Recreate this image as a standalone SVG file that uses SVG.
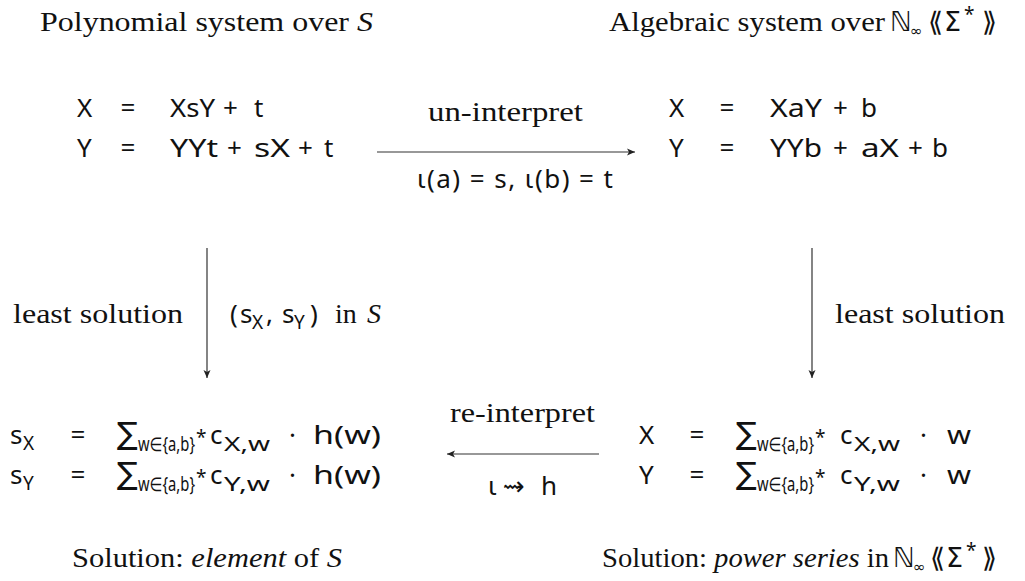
<svg xmlns="http://www.w3.org/2000/svg" width="1025" height="581" viewBox="0 0 1025 581">
<style>
.t{font-family:"Liberation Serif","DejaVu Serif",serif;font-size:28px;fill:#111}
.i{font-style:italic}
.m{font-family:"Noto Sans","DejaVu Sans",sans-serif;font-size:26px;fill:#111}
.sy{font-family:"DejaVu Sans",sans-serif}
.sb{font-size:19px}
.c{stroke:#333;stroke-width:1.2;fill:none;marker-end:url(#ah)}
</style>
<defs>
<marker id="ah" markerUnits="userSpaceOnUse" markerWidth="9" markerHeight="8" refX="8" refY="4" orient="auto">
<path d="M0,0.5 L8,4 L0,7.5 L2,4 z" fill="#222"/>
</marker>
</defs>
<rect width="1025" height="581" fill="#fff"/>

<g id="title-left">
<text class="t" x="40" y="31" textLength="333" lengthAdjust="spacingAndGlyphs">Polynomial system over <tspan class="i">S</tspan></text>
</g>
<g id="title-right">
<text class="t" x="609" y="31" textLength="276" lengthAdjust="spacingAndGlyphs">Algebraic system over</text>
<text class="m" y="31"><tspan class="sy" x="890" font-size="27">ℕ</tspan><tspan class="sy" x="910" dy="5" font-size="15">∞</tspan><tspan class="sy" x="928" dy="-5" font-size="27">⟪</tspan><tspan class="sy" x="944" font-size="27">Σ</tspan><tspan class="sb" x="964" dy="-10">*</tspan><tspan class="sy" x="982" dy="10" font-size="27">⟫</tspan></text>
</g>

<g id="poly-system">
<text class="m" y="117"><tspan x="77">X</tspan><tspan x="128" text-anchor="middle">=</tspan><tspan x="170" textLength="45" lengthAdjust="spacingAndGlyphs">XsY</tspan><tspan x="223">+</tspan><tspan x="254">t</tspan></text>
<text class="m" y="157"><tspan x="77">Y</tspan><tspan x="128" text-anchor="middle">=</tspan><tspan x="170" textLength="48" lengthAdjust="spacingAndGlyphs">YYt</tspan><tspan x="227">+</tspan><tspan x="254" textLength="36" lengthAdjust="spacingAndGlyphs">sX</tspan><tspan x="298">+</tspan><tspan x="324">t</tspan></text>
</g>

<g id="alg-system">
<text class="m" y="117"><tspan x="669">X</tspan><tspan x="727" text-anchor="middle">=</tspan><tspan x="770" textLength="52" lengthAdjust="spacingAndGlyphs">XaY</tspan><tspan x="833">+</tspan><tspan x="861">b</tspan></text>
<text class="m" y="157"><tspan x="669">Y</tspan><tspan x="727" text-anchor="middle">=</tspan><tspan x="770" textLength="52" lengthAdjust="spacingAndGlyphs">YYb</tspan><tspan x="833">+</tspan><tspan x="861" textLength="38" lengthAdjust="spacingAndGlyphs">aX</tspan><tspan x="908">+</tspan><tspan x="932">b</tspan></text>
</g>

<g id="elem-solution">
<text class="m" y="444"><tspan x="10">s</tspan><tspan class="sb" x="23" dy="6">X</tspan><tspan x="78" dy="-6" text-anchor="middle">=</tspan><tspan class="sy" x="117" font-size="31">∑</tspan><tspan class="sb" x="138" dy="7" textLength="57" lengthAdjust="spacingAndGlyphs">w∈{a,b}</tspan><tspan class="sb" x="196" dy="-7">*</tspan><tspan x="210">c</tspan><tspan class="sb" x="224" dy="7" textLength="46" lengthAdjust="spacingAndGlyphs">X,w</tspan><tspan x="289" dy="-7">·</tspan><tspan x="313" textLength="68" lengthAdjust="spacingAndGlyphs">h(w)</tspan></text>
<text class="m" y="484"><tspan x="10">s</tspan><tspan class="sb" x="23" dy="6">Y</tspan><tspan x="78" dy="-6" text-anchor="middle">=</tspan><tspan class="sy" x="117" font-size="31">∑</tspan><tspan class="sb" x="138" dy="7" textLength="57" lengthAdjust="spacingAndGlyphs">w∈{a,b}</tspan><tspan class="sb" x="196" dy="-7">*</tspan><tspan x="210">c</tspan><tspan class="sb" x="224" dy="7" textLength="46" lengthAdjust="spacingAndGlyphs">Y,w</tspan><tspan x="289" dy="-7">·</tspan><tspan x="313" textLength="68" lengthAdjust="spacingAndGlyphs">h(w)</tspan></text>
</g>

<g id="series-solution">
<text class="m" y="444"><tspan x="639">X</tspan><tspan x="697" text-anchor="middle">=</tspan><tspan class="sy" x="736" font-size="31">∑</tspan><tspan class="sb" x="757" dy="7" textLength="57" lengthAdjust="spacingAndGlyphs">w∈{a,b}</tspan><tspan class="sb" x="815" dy="-7">*</tspan><tspan x="840">c</tspan><tspan class="sb" x="854" dy="7" textLength="46" lengthAdjust="spacingAndGlyphs">X,w</tspan><tspan x="920" dy="-7">·</tspan><tspan x="947" textLength="24" lengthAdjust="spacingAndGlyphs">w</tspan></text>
<text class="m" y="484"><tspan x="639">Y</tspan><tspan x="697" text-anchor="middle">=</tspan><tspan class="sy" x="736" font-size="31">∑</tspan><tspan class="sb" x="757" dy="7" textLength="57" lengthAdjust="spacingAndGlyphs">w∈{a,b}</tspan><tspan class="sb" x="815" dy="-7">*</tspan><tspan x="840">c</tspan><tspan class="sb" x="854" dy="7" textLength="46" lengthAdjust="spacingAndGlyphs">Y,w</tspan><tspan x="920" dy="-7">·</tspan><tspan x="947" textLength="24" lengthAdjust="spacingAndGlyphs">w</tspan></text>
</g>

<g id="captions">
<text class="t" x="72" y="567" textLength="270" lengthAdjust="spacingAndGlyphs">Solution: <tspan class="i">element</tspan> of <tspan class="i">S</tspan></text>
<text class="t" x="602" y="567" textLength="287" lengthAdjust="spacingAndGlyphs">Solution: <tspan class="i">power series</tspan> in</text>
<text class="m" y="567"><tspan class="sy" x="893" font-size="27">ℕ</tspan><tspan class="sy" x="913" dy="5" font-size="15">∞</tspan><tspan class="sy" x="930" dy="-5" font-size="27">⟪</tspan><tspan class="sy" x="946" font-size="27">Σ</tspan><tspan class="sb" x="966" dy="-10">*</tspan><tspan class="sy" x="982" dy="10" font-size="27">⟫</tspan></text>
</g>

<g id="connectors">
<line class="c" x1="377" y1="152" x2="635" y2="152"/>
<line class="c" x1="599" y1="454" x2="447" y2="454"/>
<line class="c" x1="207" y1="248" x2="207" y2="378"/>
<line class="c" x1="812" y1="248" x2="812" y2="378"/>
<text class="t" x="428" y="121" textLength="155" lengthAdjust="spacingAndGlyphs">un-interpret</text>
<text class="m" x="417" y="188" textLength="196" lengthAdjust="spacing">ι(a) = s, ι(b) = t</text>
<text class="t" x="13" y="323" textLength="170" lengthAdjust="spacingAndGlyphs">least solution</text>
<text class="m" y="323"><tspan x="230">(</tspan><tspan x="240">s</tspan><tspan class="sb" x="252" dy="6">X</tspan><tspan x="266" dy="-6">,</tspan><tspan x="282">s</tspan><tspan class="sb" x="294" dy="6">Y</tspan><tspan x="310" dy="-6">)</tspan><tspan class="t" x="335">in</tspan><tspan class="t i" x="367">S</tspan></text>
<text class="t" x="835" y="323" textLength="170" lengthAdjust="spacingAndGlyphs">least solution</text>
<text class="t" x="450" y="422" textLength="145" lengthAdjust="spacingAndGlyphs">re-interpret</text>
<text class="m" y="495"><tspan x="488">ι</tspan><tspan class="sy" x="503">⇝</tspan><tspan x="541">h</tspan></text>
</g>
</svg>
